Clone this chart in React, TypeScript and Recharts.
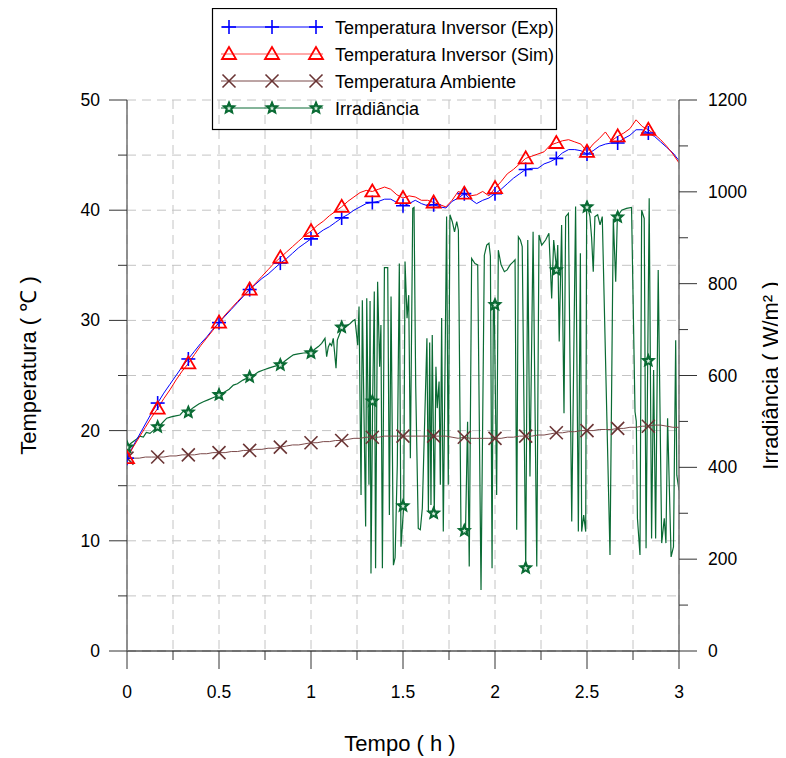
import React from "react";
import { ComposedChart, Line, XAxis, YAxis, CartesianGrid, Legend } from "recharts";

const FONT = "'Liberation Sans', Arial, Helvetica, sans-serif";
const BLUE = "#0000ff";
const RED = "#ff0000";
const BROWN = "#6a3434";
const BROWN_LINE = "#7b4a4a";
const GREEN = "#0a6b34";

// temperature series sampled every 2 minutes (hours)
const tempHours = Array.from({ length: 91 }, (_, i) => i / 30);

const invExp = [
  17.5, 18.6, 19.6, 20.6, 21.6,
  22.5, 23.4, 24.2, 25.0, 25.8,
  26.5, 27.2, 27.9, 28.5, 29.2,
  29.8, 30.4, 31.0, 31.6, 32.2,
  32.8, 33.3, 33.8, 34.2, 34.7,
  35.2, 35.6, 36.1, 36.6, 37.0,
  37.4, 37.8, 38.2, 38.5, 38.9,
  39.3, 39.6, 40.0, 40.3, 40.6,
  40.7, 40.8, 41.0, 41.0, 40.7,
  40.4, 40.6, 40.9, 40.6, 40.4,
  40.5, 40.3, 40.2, 40.8, 41.1,
  41.5, 41.0, 40.6, 40.9, 41.1,
  41.5, 41.9, 42.4, 42.9, 43.3,
  43.7, 43.8, 43.8, 44.2, 44.4,
  44.7, 45.2, 45.5, 45.5, 45.4,
  45.1, 45.4, 45.8, 46.0, 46.1,
  46.1, 46.5, 46.8, 47.3, 47.3,
  47.0, 46.7, 46.2, 45.7, 45.2,
  44.5,
];

const invSim = [
  17.5, 18.5, 19.4, 20.3, 21.2,
  22.0, 22.9, 23.7, 24.6, 25.4,
  26.1, 26.9, 27.7, 28.4, 29.1,
  29.8, 30.5, 31.1, 31.7, 32.3,
  32.8, 33.4, 34.0, 34.6, 35.2,
  35.7, 36.2, 36.7, 37.2, 37.7,
  38.1, 38.6, 39.0, 39.5, 39.9,
  40.3, 40.8, 41.2, 41.6, 41.8,
  41.7, 41.9, 42.1, 41.9, 41.4,
  41.1, 41.3, 41.2, 40.9, 40.9,
  40.7, 40.5, 40.3, 40.9, 41.7,
  41.5, 41.3, 41.4, 41.7, 41.3,
  42.0, 42.6, 43.3, 43.7, 44.2,
  44.7, 44.9, 45.1, 45.3, 45.9,
  46.1, 46.3, 46.4, 46.2, 46.0,
  45.3, 46.0, 46.5, 47.1, 46.3,
  46.7, 47.0, 47.4, 48.2, 47.6,
  47.3, 46.9, 46.4, 45.8, 45.1,
  44.3,
];

const ambient = [
  17.5, 17.5, 17.5, 17.6, 17.6,
  17.6, 17.6, 17.7, 17.7, 17.8,
  17.8, 17.8, 17.9, 17.9, 18.0,
  18.0, 18.0, 18.1, 18.1, 18.2,
  18.2, 18.3, 18.3, 18.4, 18.4,
  18.5, 18.6, 18.7, 18.7, 18.8,
  18.9, 18.9, 19.0, 19.0, 19.1,
  19.1, 19.2, 19.3, 19.3, 19.4,
  19.4, 19.4, 19.5, 19.5, 19.5,
  19.5, 19.5, 19.5, 19.5, 19.5,
  19.5, 19.5, 19.5, 19.4, 19.3,
  19.4, 19.3, 19.3, 19.3, 19.3,
  19.3, 19.3, 19.4, 19.4, 19.5,
  19.5, 19.5, 19.6, 19.6, 19.7,
  19.8, 19.8, 19.9, 19.9, 20.0,
  20.0, 20.0, 20.1, 20.1, 20.1,
  20.2, 20.2, 20.3, 20.3, 20.4,
  20.4, 20.5, 20.5, 20.4, 20.3,
  20.3,
];

// irradiance (W/m²)
const irrHours = [
  0, 0.02, 0.04, 0.053, 0.07, 0.089, 0.105, 0.125, 0.145, 0.17,
  0.19, 0.216, 0.24, 0.265, 0.288, 0.31, 0.333, 0.36, 0.39, 0.415,
  0.44, 0.47, 0.505, 0.53, 0.555, 0.578, 0.6, 0.63, 0.668, 0.69,
  0.715, 0.741, 0.77, 0.8, 0.832, 0.86, 0.88, 0.904, 0.93, 0.96,
  1.0, 1.02, 1.04, 1.058, 1.076, 1.085, 1.094, 1.103, 1.112, 1.121,
  1.136, 1.143, 1.155, 1.17, 1.19, 1.21, 1.225, 1.239,
  1.254, 1.261, 1.272, 1.279, 1.297, 1.303, 1.315, 1.321, 1.326, 1.335,
  1.344, 1.351, 1.362, 1.373, 1.38, 1.388, 1.399, 1.417, 1.426, 1.435,
  1.448, 1.457, 1.469, 1.48, 1.489, 1.504, 1.511, 1.522, 1.531, 1.54,
  1.553, 1.56, 1.569, 1.583, 1.594, 1.605, 1.63, 1.638, 1.645, 1.652,
  1.659, 1.67, 1.679, 1.686, 1.696, 1.703, 1.71, 1.719, 1.737, 1.746,
  1.755, 1.768, 1.78, 1.792, 1.801, 1.815, 1.828, 1.84, 1.851, 1.86,
  1.873, 1.891, 1.906, 1.924, 1.942, 1.955, 1.967, 1.975, 1.984, 1.991,
  1.996, 2.009, 2.018, 2.033, 2.051, 2.066, 2.082, 2.1, 2.109, 2.118,
  2.127, 2.138, 2.148, 2.167, 2.178, 2.19, 2.207, 2.227, 2.239, 2.254,
  2.275, 2.293, 2.308, 2.319, 2.335, 2.341, 2.349, 2.362, 2.375, 2.384,
  2.399, 2.417, 2.438, 2.453, 2.464, 2.471, 2.482, 2.493, 2.498, 2.504,
  2.516, 2.525, 2.534, 2.543, 2.558, 2.571, 2.583, 2.625, 2.643, 2.656,
  2.665, 2.688, 2.715, 2.742, 2.761, 2.768, 2.774, 2.788, 2.797, 2.811,
  2.821, 2.83, 2.838, 2.851, 2.862, 2.873, 2.887, 2.906, 2.92, 2.929,
  2.938, 2.957, 2.97, 2.982, 2.988, 3.0,
];

const irrValues = [
  444, 452, 458, 462, 468, 466, 476, 474, 481, 488,
  496, 507, 510, 512, 514, 524, 521, 530, 538, 543,
  547, 552, 558, 564, 570, 579, 582, 590, 597, 601,
  608, 612, 616, 620, 623, 632, 638, 645, 647, 649,
  650, 657, 663, 670, 681, 641, 662, 670, 665, 681,
  616, 677, 690, 705, 708, 712, 718, 722,
  666, 750, 340, 764, 271, 768, 362, 762, 169, 544,
  783, 180, 804, 619, 710, 180, 835, 835, 296, 772,
  187, 203, 405, 844, 227, 316, 848, 725, 775, 420,
  964, 966, 579, 267, 264, 311, 681, 303, 672, 318,
  688, 300, 619, 529, 587, 362, 725, 260, 946, 362,
  950, 935, 913, 935, 917, 267, 264, 268, 499, 184,
  855, 844, 841, 133, 862, 884, 888, 860, 180, 757,
  754, 340, 873, 841, 826, 830, 841, 848, 852, 264,
  902, 895, 881, 181, 895, 380, 913, 184, 906, 884,
  895, 910, 768, 895, 830, 884, 674, 928, 518, 946,
  953, 282, 968, 260, 866, 260, 296, 260, 967, 968,
  946, 900, 826, 946, 950, 928, 946, 209, 942, 804,
  946, 960, 964, 966, 521, 500, 289, 209, 960, 942,
  224, 632, 986, 245, 612, 245, 830, 235, 289, 235,
  507, 205, 227, 677, 383, 350,
];

// irradiance marker values (every 10 minutes)
const irrMarkerHours = [0, 1 / 6, 2 / 6, 3 / 6, 4 / 6, 5 / 6, 1, 7 / 6, 8 / 6, 9 / 6, 10 / 6, 11 / 6, 2, 13 / 6, 14 / 6, 15 / 6, 16 / 6, 17 / 6];
const irrMarkerValues = [444, 488, 520, 558, 597, 623, 649, 705, 544, 316, 300, 262, 754, 181, 830, 967, 945, 632];

const xTicks = [0, 0.25, 0.5, 0.75, 1, 1.25, 1.5, 1.75, 2, 2.25, 2.5, 2.75, 3];
const leftTicks = [0, 5, 10, 15, 20, 25, 30, 35, 40, 45, 50];
const rightTicks = [0, 100, 200, 300, 400, 500, 600, 700, 800, 900, 1000, 1100, 1200];

const expData = tempHours.map((t, i) => ({ t, v: invExp[i] }));
const simData = tempHours.map((t, i) => ({ t, v: invSim[i] }));
const ambData = tempHours.map((t, i) => ({ t, v: ambient[i] }));
const irrData = irrHours.map((t, i) => ({ t, v: irrValues[i] }));
const irrMarkData = irrMarkerHours.map((t, i) => ({ t, v: irrMarkerValues[i] }));

// ---------- markers ----------
const PlusMark = ({ cx, cy }: any) => (
  <g>
    <line x1={cx - 7} y1={cy} x2={cx + 7} y2={cy} stroke={BLUE} strokeWidth={1.6} />
    <line x1={cx} y1={cy - 7} x2={cx} y2={cy + 7} stroke={BLUE} strokeWidth={1.6} />
  </g>
);
const TriMark = ({ cx, cy }: any) => (
  <polygon
    points={`${cx},${cy - 7} ${cx - 7},${cy + 5} ${cx + 7},${cy + 5}`}
    fill="none"
    stroke={RED}
    strokeWidth={1.8}
  />
);
const CrossMark = ({ cx, cy }: any) => (
  <g>
    <line x1={cx - 6.5} y1={cy - 6.5} x2={cx + 6.5} y2={cy + 6.5} stroke={BROWN} strokeWidth={1.6} />
    <line x1={cx - 6.5} y1={cy + 6.5} x2={cx + 6.5} y2={cy - 6.5} stroke={BROWN} strokeWidth={1.6} />
  </g>
);
const starPoints = (cx: number, cy: number, ro: number, ri: number) => {
  const pts: string[] = [];
  for (let k = 0; k < 10; k++) {
    const r = k % 2 === 0 ? ro : ri;
    const a = -Math.PI / 2 + (k * Math.PI) / 5;
    pts.push(`${cx + r * Math.cos(a)},${cy + r * Math.sin(a)}`);
  }
  return pts.join(" ");
};
const StarMark = ({ cx, cy }: any) => (
  <g>
    <polygon points={starPoints(cx, cy, 6.5, 2.9)} fill={GREEN} stroke={GREEN} strokeWidth={1.2} strokeLinejoin="miter" />
    <polygon points={starPoints(cx, cy + 0.3, 2.4, 1.1)} fill="#d8efe0" stroke="none" />
  </g>
);

const markerDot = (Mark: any) => (props: any) => {
  const { cx, cy, index } = props;
  if (index % 5 !== 0 || index >= 90 || cx == null || cy == null) return <g key={`n${index}`} />;
  return <Mark key={`m${index}`} cx={cx} cy={cy} />;
};
const starDot = (props: any) => {
  const { cx, cy, index } = props;
  if (cx == null || cy == null) return <g key={`s${index}`} />;
  return <StarMark key={`s${index}`} cx={cx} cy={cy} />;
};

// ---------- ticks ----------
const LeftTick = (props: any) => {
  const { x, y, payload } = props;
  const major = payload.value % 10 === 0;
  return (
    <g>
      <line x1={x} y1={y} x2={x - (major ? 18 : 9)} y2={y} stroke="#333" strokeWidth={1} />
      {major && (
        <text x={x - 27} y={y + 6} textAnchor="end" fontSize={17.5} fontFamily={FONT} fill="#000">
          {payload.value}
        </text>
      )}
    </g>
  );
};
const RightTick = (props: any) => {
  const { x, y, payload } = props;
  const major = payload.value % 200 === 0;
  return (
    <g>
      <line x1={x} y1={y} x2={x + (major ? 18 : 9)} y2={y} stroke="#333" strokeWidth={1} />
      {major && (
        <text x={x + 29} y={y + 6} textAnchor="start" fontSize={17.5} fontFamily={FONT} fill="#000">
          {payload.value}
        </text>
      )}
    </g>
  );
};
const BottomTick = (props: any) => {
  const { x, y, payload } = props;
  const major = Math.abs(payload.value * 2 - Math.round(payload.value * 2)) < 1e-6;
  return (
    <g>
      <line x1={x} y1={y} x2={x} y2={y + (major ? 18 : 9)} stroke="#333" strokeWidth={1} />
      {major && (
        <text x={x} y={y + 47} textAnchor="middle" fontSize={17.5} fontFamily={FONT} fill="#000">
          {String(payload.value)}
        </text>
      )}
    </g>
  );
};

// ---------- axis titles ----------
const LeftTitle = (props: any) => {
  const { viewBox } = props;
  const cx = viewBox.x + 20;
  const cy = viewBox.y + viewBox.height / 2 - 10;
  return (
    <text x={cx} y={cy} transform={`rotate(-90 ${cx} ${cy})`} textAnchor="middle" dominantBaseline="central" fontSize={22} fontFamily={FONT} fill="#000">
      Temperatura ( ℃ )
    </text>
  );
};
const RightTitle = (props: any) => {
  const { viewBox } = props;
  const cx = viewBox.x + 91;
  const cy = viewBox.y + viewBox.height / 2;
  return (
    <text x={cx} y={cy} transform={`rotate(-90 ${cx} ${cy})`} textAnchor="middle" dominantBaseline="central" fontSize={22} fontFamily={FONT} fill="#000">
      Irradiância ( W/m² )
    </text>
  );
};
const BottomTitle = (props: any) => {
  const { viewBox } = props;
  const cx = viewBox.x + viewBox.width / 2 - 3;
  const cy = viewBox.y + 100;
  return (
    <text x={cx} y={cy} textAnchor="middle" fontSize={22} fontFamily={FONT} fill="#000">
      Tempo ( h )
    </text>
  );
};

// ---------- legend ----------
const legendItems = [
  { label: "Temperatura Inversor (Exp)", line: BLUE, Mark: PlusMark },
  { label: "Temperatura Inversor (Sim)", line: "#ff5555", Mark: TriMark },
  { label: "Temperatura Ambiente", line: BROWN_LINE, Mark: CrossMark },
  { label: "Irradiância", line: GREEN, Mark: StarMark },
];
const renderLegend = () => (
  <svg width={346} height={123} style={{ display: "block", overflow: "visible" }}>
    <rect x={0.5} y={0.5} width={344} height={121} fill="none" stroke="#000" strokeWidth={1.2} />
    {legendItems.map((it, i) => {
      const y = 19 + i * 27;
      const M = it.Mark;
      return (
        <g key={i}>
          <line x1={9} x2={111} y1={y} y2={y} stroke={it.line} strokeWidth={1} />
          {[17, 60, 104].map((mx) => (
            <M key={mx} cx={mx} cy={y} />
          ))}
          <text x={123} y={y + 7} fontSize={18} fontFamily={FONT} fill="#000">
            {it.label}
          </text>
        </g>
      );
    })}
  </svg>
);

export default function App() {
  return (
    <ComposedChart
      width={778}
      height={750}
      margin={{ top: 92, right: 0, bottom: 0, left: 0 }}
      style={{ fontFamily: FONT }}
    >
      <CartesianGrid yAxisId="left" stroke="#c4c4c4" strokeDasharray="9 6" strokeWidth={1} />
      <XAxis
        type="number"
        dataKey="t"
        domain={[0, 3]}
        ticks={xTicks}
        interval={0}
        height={107}
        tickSize={0}
        tickMargin={0}
        tick={<BottomTick />}
        axisLine={{ stroke: "#000", strokeWidth: 1 }}
        allowDataOverflow
        label={<BottomTitle />}
      />
      <YAxis
        yAxisId="left"
        type="number"
        domain={[0, 50]}
        ticks={leftTicks}
        interval={0}
        width={119}
        tickSize={0}
        tickMargin={0}
        tick={<LeftTick />}
        axisLine={{ stroke: "#707070", strokeWidth: 1.5 }}
        label={<LeftTitle />}
      />
      <YAxis
        yAxisId="right"
        orientation="right"
        type="number"
        domain={[0, 1200]}
        ticks={rightTicks}
        interval={0}
        width={107}
        tickSize={0}
        tickMargin={0}
        tick={<RightTick />}
        axisLine={{ stroke: "#707070", strokeWidth: 1.5 }}
        label={<RightTitle />}
      />
      <Line
        yAxisId="right"
        data={irrData}
        dataKey="v"
        type="linear"
        stroke={GREEN}
        strokeWidth={1.2}
        dot={false}
        activeDot={false}
        isAnimationActive={false}
      />
      <Line
        yAxisId="right"
        data={irrMarkData}
        dataKey="v"
        type="linear"
        stroke="none"
        dot={starDot}
        activeDot={false}
        isAnimationActive={false}
      />
      <Line
        yAxisId="left"
        data={ambData}
        dataKey="v"
        type="linear"
        stroke={BROWN_LINE}
        strokeWidth={1}
        dot={markerDot(CrossMark)}
        activeDot={false}
        isAnimationActive={false}
      />
      <Line
        yAxisId="left"
        data={expData}
        dataKey="v"
        type="linear"
        stroke={BLUE}
        strokeWidth={1}
        dot={markerDot(PlusMark)}
        activeDot={false}
        isAnimationActive={false}
      />
      <Line
        yAxisId="left"
        data={simData}
        dataKey="v"
        type="linear"
        stroke={RED}
        strokeWidth={1}
        dot={markerDot(TriMark)}
        activeDot={false}
        isAnimationActive={false}
      />
      <Legend
        content={renderLegend}
        layout="horizontal"
        verticalAlign="middle"
        align="center"
        wrapperStyle={{ left: 204, top: 0, width: 346, height: 123 }}
      />
    </ComposedChart>
  );
}
